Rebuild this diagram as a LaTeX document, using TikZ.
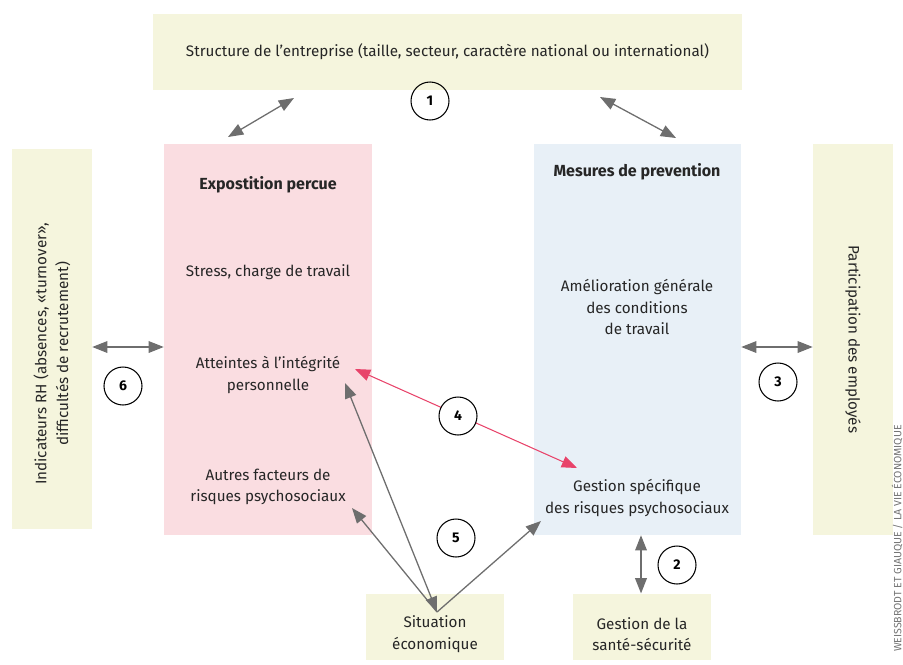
\documentclass[tikz,border=0pt]{standalone}
\usepackage{fontspec}
\setmainfont{Fira Sans}
\usetikzlibrary{positioning, arrows.meta}
\definecolor{boxyellow}{RGB}{245,245,221}
\definecolor{boxpink}{RGB}{250,221,225}
\definecolor{boxblue}{RGB}{232,240,247}
\definecolor{linkgrey}{RGB}{110,110,110}
\definecolor{linkred}{RGB}{232,67,106}

\begin{document}
\begin{tikzpicture}[x=0.03cm, y=-0.03cm,
	box/.style={fill=#1, inner sep=0pt},
	txt/.style={align=center, text=black!85, font=\fontsize{13}{18.5}\selectfont},
	head/.style={txt, font=\bfseries\fontsize{13.7}{18.5}\selectfont},
	num/.style={draw, circle, line width=0.9pt, minimum size=1.14cm, inner sep=0pt, font=\bfseries\fontsize{12}{14}\selectfont},
	tip/.style={Triangle[length=13pt,width=10pt]},
	link/.style={linkgrey, line width=1.1pt, {Triangle[length=13pt,width=10pt]}-{Triangle[length=13pt,width=10pt]}},
	onelink/.style={linkgrey, line width=1.1pt, -{Triangle[length=13pt,width=10pt]}},
	redlink/.style={link, linkred, line width=0.9pt}]
	\useasboundingbox (0,0) rectangle (903,664);
	% boxes
	\node[box=boxyellow, minimum width=17.67cm, minimum height=2.28cm] (struct) at (447.5,52) {};
	\node[box=boxpink, minimum width=6.24cm, minimum height=11.73cm] (expo) at (268,339.5) {};
	\node[box=boxblue, minimum width=6.21cm, minimum height=11.73cm] (mesures) at (637.5,339.5) {};
	\node[box=boxyellow, minimum width=2.4cm, minimum height=11.4cm] (indic) at (52,339) {};
	\node[box=boxyellow, minimum width=2.4cm, minimum height=11.73cm] (particip) at (853,339.5) {};
	\node[box=boxyellow, minimum width=4.14cm, minimum height=2.0cm] (situation) at (435,627) {};
	\node[box=boxyellow, minimum width=4.14cm, minimum height=2.0cm] (sante) at (642,627) {};
	% texts
	\node[txt] (structtxt) at (struct) {Structure de l’entreprise (taille, secteur, caractère national ou international)};
	\node[head] (expotitle) at (268,185) {Expostition percue};
	\node[txt] (stress) at (268,272) {Stress, charge de travail};
	\node[txt] (atteintes) at (268,375) {Atteintes à l’intégrité\\personnelle};
	\node[txt] (autres) at (268,487) {Autres facteurs de\\risques psychosociaux};
	\node[head] (mestitle) at (637,172) {Mesures de prevention};
	\node[txt] (amelio) at (637,307) {Amélioration générale\\des conditions\\de travail};
	\node[txt] (gestspec) at (637,498) {Gestion spécifique\\des risques psychosociaux};
	\node[txt, rotate=90] (indictxt) at (52,354) {Indicateurs RH (absences, «turnover»,\\difficultés de recrutement)};
	\node[txt, rotate=-90] (participtxt) at (particip) {Participation des employés};
	\node[txt] (situationtxt) at (435,634) {Situation\\économique};
	\node[txt] (santetxt) at (642,634) {Gestion de la\\santé-sécurité};
	\node[rotate=90, anchor=east, inner sep=0pt, text=black!55, font=\fontsize{9}{10}\selectfont] (credit) at (897,425) {WEISSBRODT ET GIAUQUE / LA VIE ÉCONOMIQUE};
	% link ends
	\coordinate (s1a) at (294,98);
	\coordinate (s1b) at (228,137);
	\coordinate (s2a) at (600,97);
	\coordinate (s2b) at (676,138);
	\coordinate (eco) at (437,612);
	\coordinate (toautres) at (352,508);
	\coordinate (toatt) at (345,383);
	\coordinate (togest) at (541,521);
	\coordinate (fromatt) at (355,369);
	\coordinate (togest2) at (577,468);
	% links
	\draw[link] (s1a) -- (s1b);
	\draw[link] (s2a) -- (s2b);
	\draw[link] (indic.east |- 0,347) -- (expo.west |- 0,347);
	\draw[link] (mesures.east |- 0,347) -- (particip.west |- 0,347);
	\draw[link] (sante.north -| 641,0) -- (mesures.south -| 641,0);
	\draw[onelink] (eco) -- (toautres);
	\draw[link] (eco) -- (toatt);
	\draw[onelink] (eco) -- (togest);
	\draw[redlink] (fromatt) -- (togest2);
	% numbers
	\node[num] (n1) at (430,101) {1};
	\node[num] (n6) at (123,386) {6};
	\node[num] (n3) at (778,382) {3};
	\node[num, fill=white] (n4) at (458,416) {4};
	\node[num] (n5) at (456,538) {5};
	\node[num] (n2) at (677,565) {2};
\end{tikzpicture}
\end{document}
